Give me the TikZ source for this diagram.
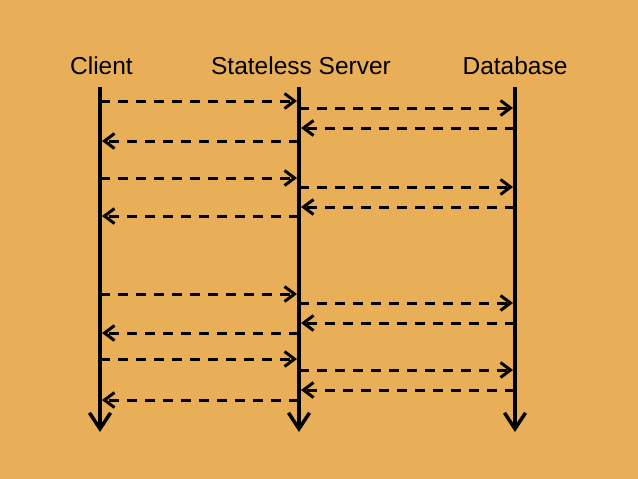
\documentclass[tikz,border=0pt]{standalone}
\usepackage{fontspec}
\setmainfont{Liberation Sans}
\usetikzlibrary{arrows.meta}
\usetikzlibrary{positioning}
\definecolor{bgorange}{RGB}{232,174,88}

\begin{document}
\begin{tikzpicture}[x=1pt, y=-1pt,
  actor/.style={font=\fontsize{24.5}{28}\selectfont, inner sep=0pt, anchor=base},
  lifeline/.style={line width=4pt, -{Straight Barb[length=16pt,width=21pt,line width=3.5pt]}},
  msg/.style={line width=3pt, dash pattern=on 10pt off 8pt,
    -{Straight Barb[length=10pt,width=15pt,line width=3pt]}}]

 % background
 \fill[bgorange] (0,0) rectangle (638,479);
 \useasboundingbox (0,0) rectangle (638,479);

 % actors
 \node[actor] (client) at (101.5,74) {Client};
 \node[actor] (server) at (301,74) {Stateless Server};
 \node[actor] (db) at (515,74) {Database};

 % lifelines
 \foreach \n/\x in {client/100, server/299, db/515} {
   \coordinate (\n top) at (\x,87);
   \coordinate (\n end) at (\x,432);
   \draw[lifeline] (\n top) -- (\n end);
 }

 % request / response rounds
 \foreach \k/\ya/\yb/\yc/\yd in {1/101/108/128/141, 2/178/187/207/216,
                                 3/294/303/323/333, 4/359/370/390/400} {
   \coordinate (ca\k) at (100,\ya);  \coordinate (sa\k) at (297,\ya);
   \coordinate (sb\k) at (299,\yb);  \coordinate (db\k) at (513,\yb);
   \coordinate (dc\k) at (515,\yc);  \coordinate (sc\k) at (301,\yc);
   \coordinate (sd\k) at (299,\yd);  \coordinate (cd\k) at (102,\yd);
   \draw[msg] (ca\k) -- (sa\k);
   \draw[msg] (sb\k) -- (db\k);
   \draw[msg] (dc\k) -- (sc\k);
   \draw[msg] (sd\k) -- (cd\k);
 }

\end{tikzpicture}
\end{document}
